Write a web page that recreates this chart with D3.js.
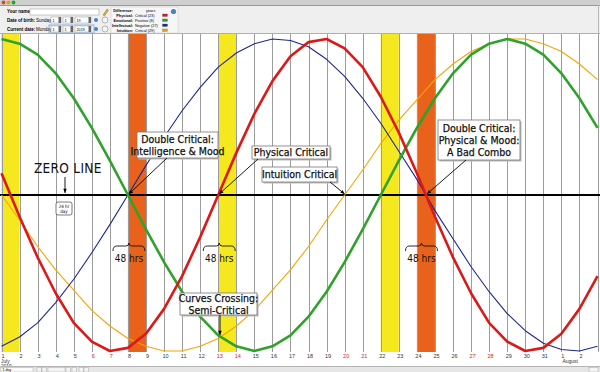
<!DOCTYPE html>
<html>
<head>
<meta charset="utf-8">
<script src="https://cdn.jsdelivr.net/npm/d3@7"></script>
<style>
body { margin: 0; background: #fff; }
svg { display: block; font-family: "Liberation Sans", Arial, sans-serif; }
.note { font-family: "Liberation Sans Narrow", "DejaVu Sans Condensed", sans-serif; }
</style>
</head>
<body>
<div id="chart"></div>
<script>
var width = 600,
    height = 372,
    plotTop = 34,
    plotBottom = 352;

// day labels, July 1 2019 .. Aug 3 2019
var dayLabels = ["1","2","3","4","5","6","7","8","9","10","11","12","13","14","15","16",
                 "17","18","19","20","21","22","23","24","25","26","27","28","29","30","31",
                 "1","2","3"];
var weekendIdx = [5, 6, 12, 13, 19, 20, 26, 27, 33];

// values read per day, -1 .. 1
var physical = [0.14, -0.14, -0.40, -0.63, -0.82, -0.94, -1.00, -0.98, -0.89, -0.73, -0.52, -0.27, 0.00,
                0.27, 0.52, 0.73, 0.89, 0.98, 1.00, 0.94, 0.82, 0.63, 0.40, 0.14, -0.14, -0.40, -0.63,
                -0.82, -0.94, -1.00, -0.98, -0.89, -0.73, -0.52];
var emotional = [1.00, 0.97, 0.90, 0.78, 0.62, 0.43, 0.22, 0.00, -0.22, -0.43, -0.62, -0.78, -0.90,
                 -0.97, -1.00, -0.97, -0.90, -0.78, -0.62, -0.43, -0.22, 0.00, 0.22, 0.43, 0.62, 0.78,
                 0.90, 0.97, 1.00, 0.97, 0.90, 0.78, 0.62, 0.43];
var intellectual = [-0.97, -0.91, -0.82, -0.69, -0.54, -0.37, -0.19, 0.00, 0.19, 0.37, 0.54, 0.69, 0.82,
                    0.91, 0.97, 1.00, 0.99, 0.95, 0.87, 0.76, 0.62, 0.46, 0.28, 0.10, -0.10, -0.28, -0.46,
                    -0.62, -0.76, -0.87, -0.95, -0.99, -1.00, -0.97];
var intuition = [0.00, -0.16, -0.33, -0.48, -0.61, -0.74, -0.84, -0.92, -0.97, -1.00, -1.00, -0.97, -0.92,
                 -0.84, -0.74, -0.61, -0.48, -0.33, -0.16, 0.00, 0.16, 0.33, 0.48, 0.61, 0.74, 0.84,
                 0.92, 0.97, 1.00, 1.00, 0.97, 0.92, 0.84, 0.74];

// highlighted critical days
var criticalDays = [1, 8, 13, 22, 24];
var criticalKind = ["single", "double", "single", "single", "double"];

// legend panel
var legendNames = ["Physical:", "Emotional:", "Intellectual:", "Intuition:"],
    legendStates = ["Critical (23)", "Positive (8)", "Negative (27)", "Critical (29)"];

var series = [
    {name: "intuition", values: intuition, color: "#f4a500", w: 1.1},
    {name: "intellectual", values: intellectual, color: "#1c2790", w: 1.1},
    {name: "emotional", values: emotional, color: "#2ea22a", w: 2.6},
    {name: "physical", values: physical, color: "#dc1818", w: 2.6}
];
var legendColors = ["#dc1818", "#2ea22a", "#1c2790", "#f4a500"];

var svg = d3.select("#chart").append("svg")
    .attr("width", width)
    .attr("height", height);

var x = d3.scaleLinear().domain([1, 34]).range([1.5, 597.5]),
    y = d3.scaleLinear().domain([-1, 1]).range([351, 39]);

svg.append("defs").append("clipPath").attr("id", "plotclip")
    .append("rect").attr("x", 0).attr("y", plotTop).attr("width", width).attr("height", plotBottom - plotTop + 2);

// critical bands
svg.append("g").selectAll("rect")
    .data(criticalDays)
    .enter().append("rect")
    .attr("x", function(d) { return x(d); })
    .attr("y", plotTop)
    .attr("width", function(d) { return x(d + 1) - x(d); })
    .attr("height", plotBottom - plotTop)
    .attr("fill", function(d, i) { return criticalKind[i] == "double" ? "#e8621b" : "#f6e81e"; });

// day grid
svg.append("g").selectAll("line")
    .data(dayLabels)
    .enter().append("line")
    .attr("x1", function(d, i) { return Math.round(x(i + 1)) + 0.5; })
    .attr("x2", function(d, i) { return Math.round(x(i + 1)) + 0.5; })
    .attr("y1", plotTop)
    .attr("y2", plotBottom)
    .attr("stroke", "#9c9c9c")
    .attr("stroke-width", 1);

// zero line
svg.append("line")
    .attr("x1", 0).attr("x2", width)
    .attr("y1", y(0)).attr("y2", y(0))
    .attr("stroke", "#000")
    .attr("stroke-width", 2);

// curves
var line = d3.line()
    .x(function(d, i) { return x(i + 1); })
    .y(function(d) { return y(d); });
svg.append("g").attr("clip-path", "url(#plotclip)")
    .selectAll("path")
    .data(series)
    .enter().append("path")
    .attr("d", function(s) { return line(s.values); })
    .attr("fill", "none")
    .attr("stroke", function(s) { return s.color; })
    .attr("stroke-width", function(s) { return s.w; })
    .attr("stroke-linejoin", "round");

// day labels
svg.append("g").selectAll("text")
    .data(dayLabels.slice(0, 33))
    .enter().append("text")
    .attr("x", function(d, i) { return x(i + 1) + 1.5; })
    .attr("y", 358)
    .attr("text-anchor", "middle")
    .attr("font-size", 5.5)
    .attr("fill", function(d, i) { return weekendIdx.indexOf(i) >= 0 ? "#d42020" : "#333"; })
    .text(function(d) { return d; });
svg.append("text").attr("x", 1).attr("y", 363).attr("font-size", 4.8).attr("fill", "#333").text("July");
svg.append("text").attr("x", 1).attr("y", 367.5).attr("font-size", 4.8).attr("fill", "#333").text("2019");
svg.append("text").attr("x", x(32) + 1).attr("y", 363).attr("font-size", 5).attr("fill", "#333").text("August");

// ---- annotations ----
var notes = svg.append("g").attr("class", "note");

function arrow(x1, y1, x2, y2) {
    var ang = Math.atan2(y2 - y1, x2 - x1), L = 4.5;
    notes.append("line")
        .attr("x1", x1).attr("y1", y1).attr("x2", x2).attr("y2", y2)
        .attr("stroke", "#000").attr("stroke-width", 0.9);
    notes.append("path")
        .attr("d", "M" + x2 + "," + y2 +
            "L" + (x2 - L * Math.cos(ang - 0.4)) + "," + (y2 - L * Math.sin(ang - 0.4)) +
            "L" + (x2 - L * Math.cos(ang + 0.4)) + "," + (y2 - L * Math.sin(ang + 0.4)) + "Z")
        .attr("fill", "#000");
}
function box(x0, y0, w, h, lines, fs) {
    notes.append("rect").attr("x", x0 + 1.5).attr("y", y0 + 1.5).attr("width", w).attr("height", h)
        .attr("fill", "#bbb");
    notes.append("rect").attr("x", x0).attr("y", y0).attr("width", w).attr("height", h)
        .attr("fill", "#fff").attr("stroke", "#777").attr("stroke-width", 0.8);
    var lh = fs * 1.15, start = y0 + h / 2 - (lines.length - 1) * lh / 2 + fs * 0.36;
    lines.forEach(function(t, i) {
        notes.append("text")
            .attr("x", x0 + w / 2).attr("y", start + i * lh)
            .attr("text-anchor", "middle")
            .attr("font-size", fs)
            .attr("fill", "#111")
            .attr("stroke", "#111")
            .attr("stroke-width", 0.25)
            .text(t);
    });
}

var z = y(0);
box(137, 132, 81, 26, ["Double Critical:", "Intelligence & Mood"], 10.5);
arrow(167, 158, x(8) + 1, z - 1);
box(252, 146, 78, 13, ["Physical Critical"], 10.5);
arrow(258, 159, x(13) + 1, z - 1);
box(262, 167, 75, 15, ["Intuition Critical"], 10.5);
arrow(330, 182, x(20), z - 1);
box(438, 120, 82, 40, ["Double Critical:", "Physical & Mood:", "A Bad Combo"], 10.5);
arrow(466, 160, x(24.5) + 1, z - 1);
box(180, 293, 77, 22, ["Curves Crossing:", "Semi-Critical"], 10.5);
arrow(220, 315, 220, 335);

// ZERO LINE label
notes.append("text").attr("x", 34).attr("y", 173)
    .attr("font-size", 13.5).attr("letter-spacing", 0.3).attr("fill", "#111").text("ZERO LINE");
arrow(65, 177, 65, z - 2);

// 24 hr day tag
notes.append("rect").attr("x", 56).attr("y", 202).attr("width", 16).attr("height", 13)
    .attr("rx", 2).attr("fill", "#fff").attr("stroke", "#222").attr("stroke-width", 0.6);
notes.append("text").attr("x", 64).attr("y", 207.5).attr("text-anchor", "middle")
    .attr("font-size", 4.5).text("24 hr");
notes.append("text").attr("x", 64).attr("y", 212.5).attr("text-anchor", "middle")
    .attr("font-size", 4.5).text("day");

// 48 hrs braces
[8, 13, 24.2].forEach(function(dd) {
    var cx = x(dd) + 1, hw = 16, yb = 246;
    notes.append("path")
        .attr("d", "M" + (cx - hw) + "," + (yb + 5) +
            "Q" + (cx - hw) + "," + yb + " " + (cx - hw + 4) + "," + yb +
            "L" + (cx - 3) + "," + yb +
            "Q" + cx + "," + yb + " " + cx + "," + (yb - 3) +
            "Q" + cx + "," + yb + " " + (cx + 3) + "," + yb +
            "L" + (cx + hw - 4) + "," + yb +
            "Q" + (cx + hw) + "," + yb + " " + (cx + hw) + "," + (yb + 5))
        .attr("fill", "none").attr("stroke", "#111").attr("stroke-width", 0.9);
    notes.append("text").attr("x", cx).attr("y", 262).attr("text-anchor", "middle")
        .attr("font-size", 10).attr("fill", "#111").text("48 hrs");
});

// ---- window header ----
var head = svg.append("g");
head.append("rect").attr("x", 0).attr("y", 0).attr("width", width).attr("height", 34).attr("fill", "#efefef");
head.append("rect").attr("x", 0).attr("y", 0).attr("width", width).attr("height", 5).attr("fill", "#cfcfcf");
head.append("line").attr("x1", 0).attr("x2", width).attr("y1", 5.5).attr("y2", 5.5).attr("stroke", "#9a9a9a");
head.append("line").attr("x1", 0).attr("x2", width).attr("y1", 33.5).attr("y2", 33.5).attr("stroke", "#b0b0b0");
head.append("line").attr("x1", 598.5).attr("x2", 598.5).attr("y1", 5).attr("y2", 34).attr("stroke", "#b8b8b8");
["#e0443e", "#dea123", "#1aab29"].forEach(function(c, i) {
    head.append("circle").attr("cx", 3.5 + i * 5).attr("cy", 2.5).attr("r", 1.9).attr("fill", c);
});

head.append("text").attr("x", 7).attr("y", 13).attr("font-size", 4.5).attr("font-weight", "bold").text("Your name:");
head.append("rect").attr("x", 30).attr("y", 9).attr("width", 69).attr("height", 6)
    .attr("fill", "#fff").attr("stroke", "#999").attr("stroke-width", 0.5);
head.append("path").attr("d", "M103,15 L107,9 L108.5,10 L104.5,16 Z").attr("fill", "#d8b020").attr("stroke", "#444").attr("stroke-width", 0.3);

[["Date of birth:", "Sunday", 22], ["Current date:", "Monday", 31]].forEach(function(r, k) {
    head.append("text").attr("x", 7).attr("y", r[2]).attr("font-size", 4.5).attr("font-weight", "bold").text(r[0]);
    head.append("text").attr("x", 36).attr("y", r[2]).attr("font-size", 4.5).text(r[1]);
    if (k == 1) {
        head.append("rect").attr("x", 49).attr("y", r[2] - 6).attr("width", 45).attr("height", 8)
            .attr("fill", "none").attr("stroke", "#7aa7e0").attr("stroke-width", 0.8);
    }
    [[51, 10, "1"], [63, 10, "1"], [75, 16, k ? "2019" : "19"]].forEach(function(s) {
        head.append("rect").attr("x", s[0]).attr("y", r[2] - 5).attr("width", s[1]).attr("height", 6)
            .attr("fill", "#fff").attr("stroke", "#888").attr("stroke-width", 0.4);
        head.append("text").attr("x", s[0] + 1.5).attr("y", r[2]).attr("font-size", 3.8).text(s[2]);
        head.append("rect").attr("x", s[0] + s[1] - 2.5).attr("y", r[2] - 5).attr("width", 2.5).attr("height", 6)
            .attr("fill", "#666");
    });
    head.append("circle").attr("cx", 96).attr("cy", r[2] - 2).attr("r", 2).attr("fill", "#4a7fd0");
    head.append("circle").attr("cx", 105).attr("cy", r[2] - 2).attr("r", 3).attr("fill", "#f4f4f4")
        .attr("stroke", "#777").attr("stroke-width", 0.5);
});

head.append("rect").attr("x", 111).attr("y", 7).attr("width", 67).attr("height", 26)
    .attr("fill", "#f6f6f6").attr("stroke", "#c8c8c8").attr("stroke-width", 0.5);
head.append("text").attr("x", 133).attr("y", 12).attr("text-anchor", "end").attr("font-size", 3.8)
    .attr("font-weight", "bold").text("Difference:");
head.append("text").attr("x", 146).attr("y", 12).attr("font-size", 3.8).text("years");
legendNames.forEach(function(n, i) {
    var yy = 17 + i * 5;
    head.append("text").attr("x", 133).attr("y", yy).attr("text-anchor", "end").attr("font-size", 3.8)
        .attr("font-weight", "bold").text(n);
    head.append("text").attr("x", 135).attr("y", yy).attr("font-size", 3.8).text(legendStates[i]);
    head.append("rect").attr("x", 162.5).attr("y", yy - 3).attr("width", 5).attr("height", 2.5)
        .attr("fill", legendColors[i]).attr("stroke", "#555").attr("stroke-width", 0.3);
});
head.append("circle").attr("cx", 173.5).attr("cy", 11.5).attr("r", 2.6).attr("fill", "#4a7fd0");

// ---- bottom bar ----
var foot = svg.append("g");
foot.append("rect").attr("x", 0).attr("y", 366).attr("width", width).attr("height", 6).attr("fill", "#e6e6e6");
foot.append("line").attr("x1", 0).attr("x2", width).attr("y1", 366.5).attr("y2", 366.5).attr("stroke", "#b5b5b5");
foot.append("rect").attr("x", 1).attr("y", 367.5).attr("width", 32).attr("height", 4.5)
    .attr("fill", "#fafafa").attr("stroke", "#999").attr("stroke-width", 0.4);
foot.append("text").attr("x", 2.5).attr("y", 371).attr("font-size", 3.6).text("1 day");
[37, 42, 48, 66, 72, 79, 84].forEach(function(bx, i) {
    foot.append("rect").attr("x", bx).attr("y", 367.5).attr("width", i == 2 ? 17 : 4.5).attr("height", 4.5)
        .attr("fill", "#f4f4f4").attr("stroke", "#999").attr("stroke-width", 0.4);
});
foot.append("rect").attr("x", 589).attr("y", 367.5).attr("width", 9).attr("height", 4.5)
    .attr("fill", "#f4f4f4").attr("stroke", "#999").attr("stroke-width", 0.4);
</script>
</body>
</html>
